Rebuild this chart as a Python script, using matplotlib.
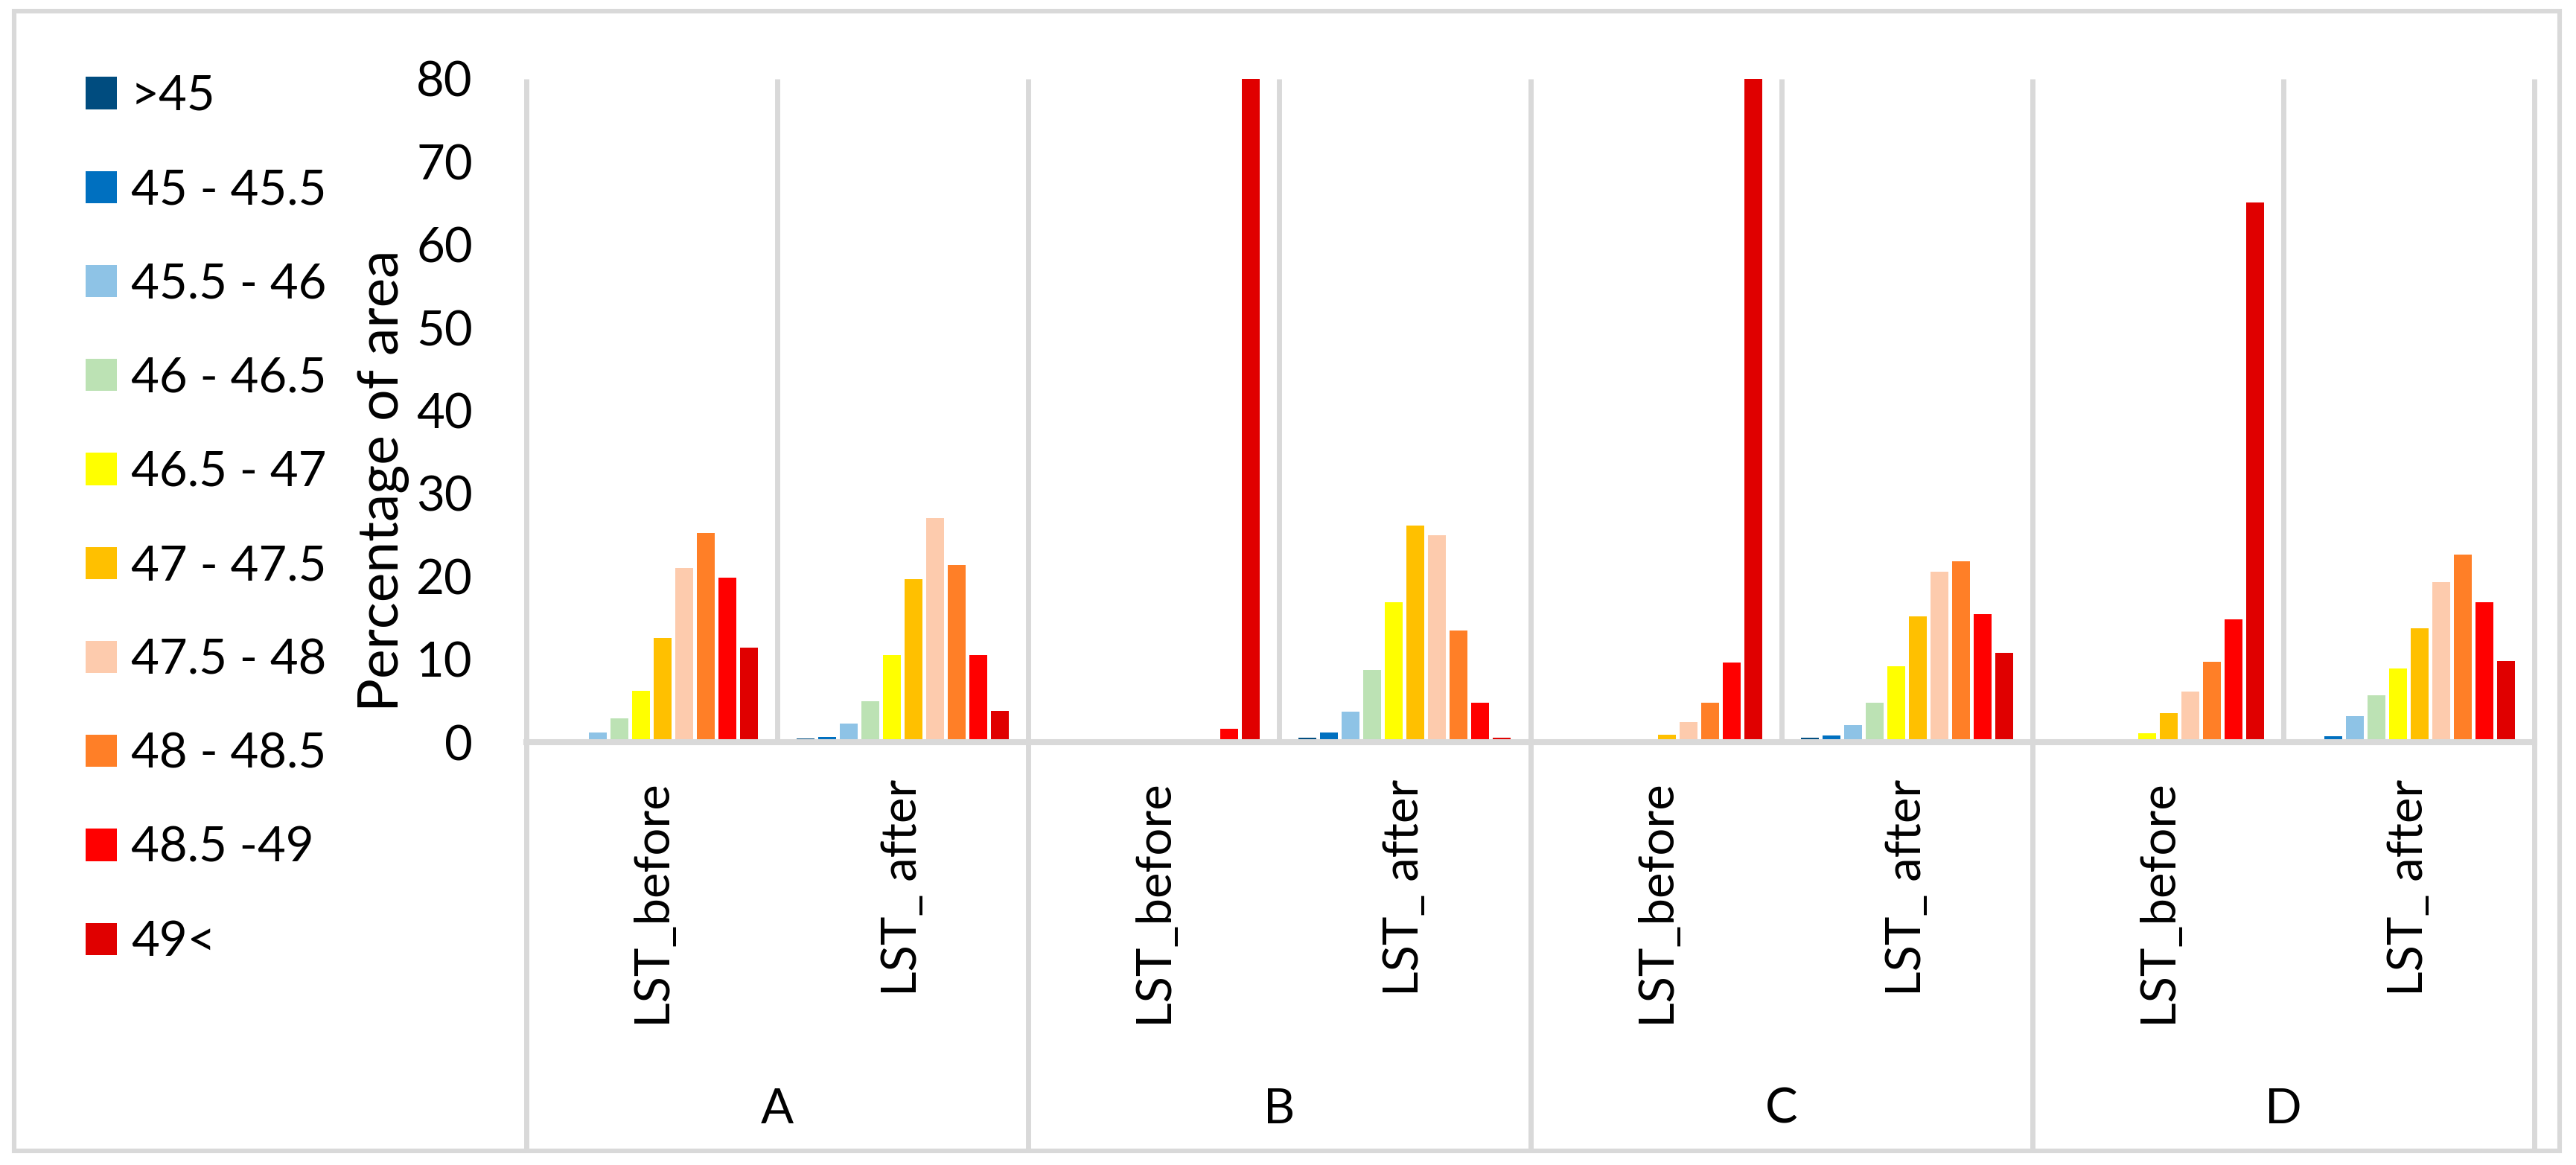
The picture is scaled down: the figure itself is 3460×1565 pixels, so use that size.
import numpy as np
import matplotlib
matplotlib.use('Agg')
import matplotlib.pyplot as plt
from matplotlib.patches import Patch, Rectangle

plt.rcParams['font.family'] = ['Lato', 'DejaVu Sans']

# dados
grupos = ['A', 'B', 'C', 'D']
sub_categorias = ['LST_before', 'LST_ after']
classes = ['>45', '45 - 45.5', '45.5 - 46', '46 - 46.5', '46.5 - 47',
           '47 - 47.5', '47.5 - 48', '48 - 48.5', '48.5 -49', '49<']
cores = ['#004C7F', '#0070C0', '#8EC3E6', '#BCE2B4', '#FFFF00',
         '#FFC000', '#FDCBAD', '#FF7F27', '#FF0000', '#E00000']

# ordem: A_before, A_after, B_before, B_after, C_before, C_after, D_before, D_after
v_maior45 = [0, 0.45, 0, 0.5, 0, 0.5, 0, 0]
v_45_455 = [0, 0.6, 0, 1.2, 0, 0.8, 0, 0.7]
v_455_46 = [1.2, 2.2, 0, 3.7, 0, 2.1, 0, 3.1]
v_46_465 = [2.9, 4.9, 0, 8.7, 0, 4.8, 0, 5.7]
v_465_47 = [6.2, 10.5, 0, 16.9, 0, 9.2, 1.1, 8.9]
v_47_475 = [12.6, 19.7, 0, 26.1, 0.9, 15.2, 3.5, 13.7]
v_475_48 = [21.0, 27.0, 0, 25.0, 2.4, 20.6, 6.1, 19.3]
v_48_485 = [25.2, 21.4, 0, 13.5, 4.8, 21.8, 9.7, 22.6]
v_485_49 = [19.8, 10.5, 1.6, 4.8, 9.6, 15.4, 14.8, 16.9]
v_49 = [11.4, 3.8, 98.4, 0.5, 82.3, 10.8, 65.1, 9.8]

series = [v_maior45, v_45_455, v_455_46, v_46_465, v_465_47,
          v_47_475, v_475_48, v_48_485, v_485_49, v_49]

W, H = 3460, 1565
fig = plt.figure(figsize=(W / 200, H / 200), dpi=200)
ax = fig.add_axes([707 / W, 1 - 997 / H, 2697 / W, 891 / H])

cinza = '#D9D9D9'
fs = 23.5
n_cat = len(grupos) * len(sub_categorias)
x = np.arange(n_cat) + 0.5
passo = 29 / 337
largura = 24 / 337

for j, (vals, cor, nome) in enumerate(zip(series, cores, classes)):
    ax.bar(x + (j - 4.5) * passo, vals, width=largura, color=cor, label=nome, zorder=2)

ax.set_xlim(0, n_cat)
ax.set_ylim(0, 80)
ax.set_yticks(range(0, 81, 10))

for s in ['left', 'right', 'top']:
    ax.spines[s].set_visible(False)
ax.spines['bottom'].set_color(cinza)
ax.spines['bottom'].set_linewidth(2.9)
ax.spines['bottom'].set_zorder(3)

# separadores das categorias (os dos grupos descem ate a borda)
trans = ax.get_xaxis_transform()
y_fundo = (997 - 1545) / 891
for k in range(n_cat + 1):
    y0 = y_fundo if k % 2 == 0 else 0
    ax.plot([k, k], [y0, 1], color=cinza, lw=2.5, transform=trans,
            clip_on=False, zorder=1, solid_capstyle='butt')

ax.set_xticks(x)
ax.set_xticklabels(sub_categorias * len(grupos), rotation=90, fontsize=fs)
ax.tick_params(axis='x', length=0, pad=18)
ax.tick_params(axis='y', length=0, pad=26, labelsize=fs)

for g, nome in enumerate(grupos):
    ax.text(2 * g + 1, (997 - 1490) / 891, nome, transform=trans,
            ha='center', va='center', fontsize=fs)

ax.text((515 - 707) / 2697, (997 - 646) / 891, 'Percentage of area',
        transform=ax.transAxes, rotation=90, ha='center', va='center', fontsize=27)

# legenda
handles = [Patch(facecolor=c, edgecolor='none') for c in cores]
fig.legend(handles, classes, loc='upper left', bbox_to_anchor=(115 / W, 1 - 100 / H),
           frameon=False, fontsize=fs, handlelength=0.64, handleheight=0.64,
           handletextpad=0.29, labelspacing=1.03, borderpad=0, borderaxespad=0)

# borda do grafico
fig.patches.append(Rectangle((19 / W, 1 - 1546 / H), (3438 - 19) / W, (1546 - 15) / H,
                             transform=fig.transFigure, fill=False,
                             edgecolor=cinza, lw=2.2))

fig.savefig('out.png', dpi=200, facecolor='white')
